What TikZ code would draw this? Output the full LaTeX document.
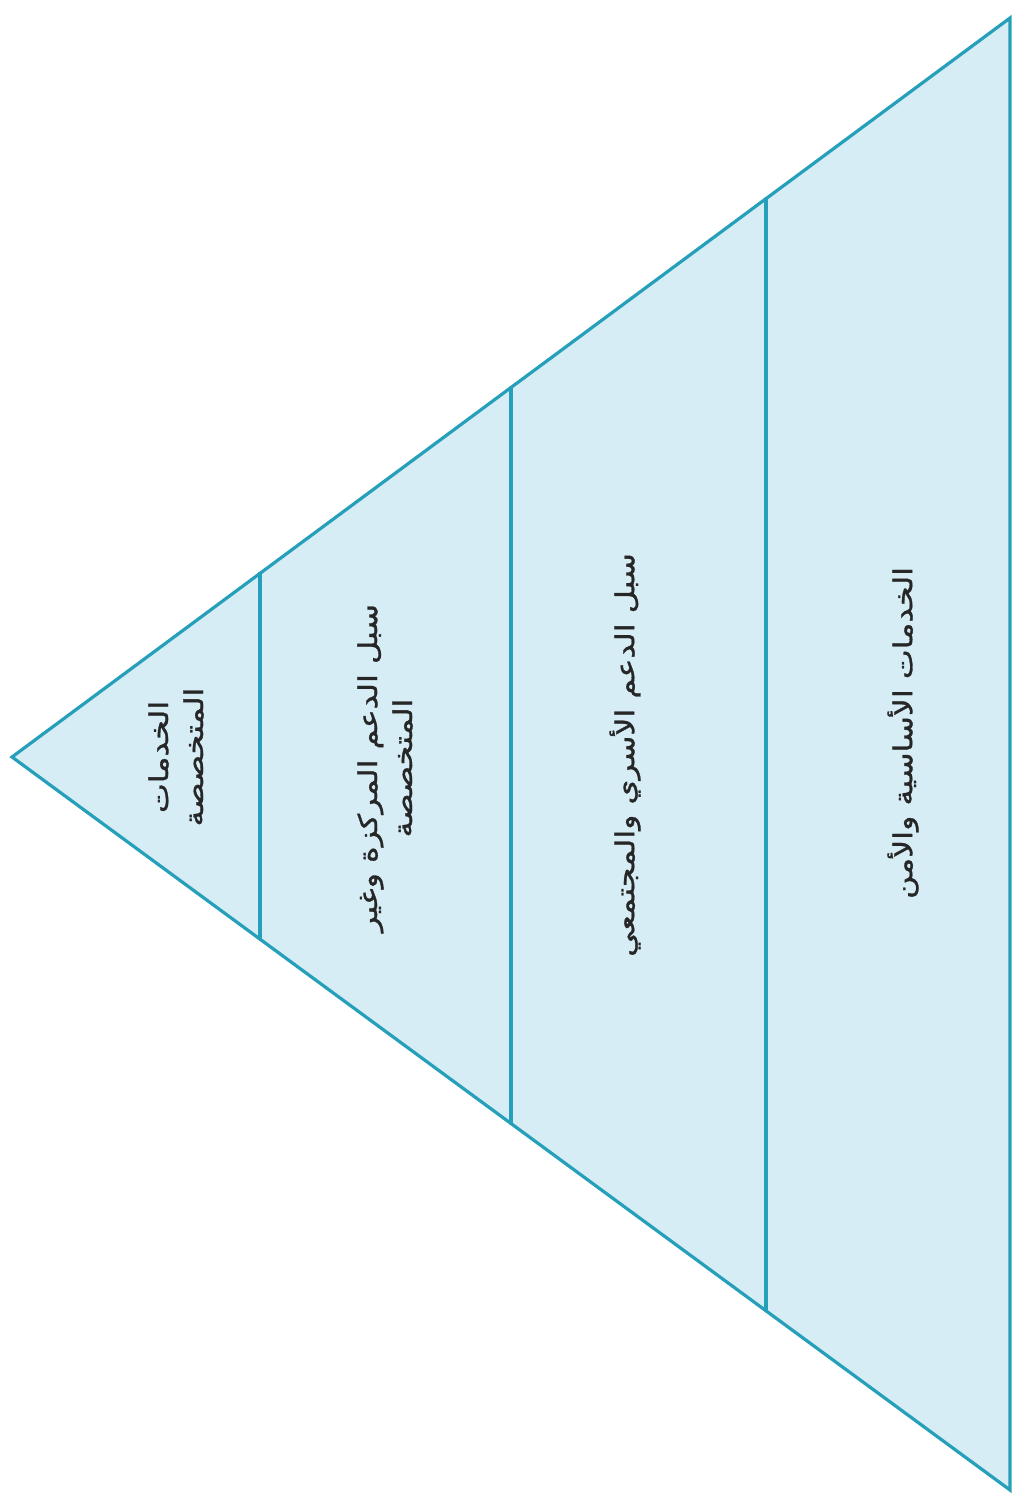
\documentclass[tikz,border=0pt]{standalone}
\usepackage{fontspec}
\usetikzlibrary{calc}
\newfontfamily\arabicfont[Script=Arabic, FakeStretch=1.22, FakeBold=1.2]{DejaVu Sans}
\TeXXeTstate=1
\definecolor{pfill}{RGB}{214,237,246}
\definecolor{pline}{RGB}{38,160,186}
\tikzset{
  edge/.style={draw=pline, line width=3.2pt, line cap=round, line join=miter},
  lab/.style={font=\arabicfont\fontsize{26}{35}\selectfont, rotate=90, align=center, text=black!85, inner sep=0pt}
}
\begin{document}
\begin{tikzpicture}[x=1pt,y=-1pt]
\useasboundingbox (0,0) rectangle (1017,1499);
\coordinate (apex) at (12,757);
\coordinate (tr) at (1010,18);
\coordinate (br) at (1010,1490);
\fill[pfill] (apex) -- (tr) -- (br) -- cycle;
\coordinate (u1) at ($(apex)!0.2485!(tr)$);
\coordinate (l1) at ($(apex)!0.2485!(br)$);
\coordinate (u2) at ($(apex)!0.5!(tr)$);
\coordinate (l2) at ($(apex)!0.5!(br)$);
\coordinate (u3) at ($(apex)!0.7555!(tr)$);
\coordinate (l3) at ($(apex)!0.7555!(br)$);
\draw[edge] (u1) -- (l1);
\draw[edge] (u2) -- (l2);
\draw[edge] (u3) -- (l3);
\draw[edge] (apex) -- (tr) -- (br) -- cycle;
\node[lab] (t1) at (176,757) {\beginR الخدمات\endR\\\beginR المتخصصة\endR};
\node[lab] (t2) at (385,768) {\beginR سبل الدعم المركزة وغير\endR\\\beginR المتخصصة\endR};
\node[lab] (t3) at (625,755) {\beginR سبل الدعم الأسري والمجتمعي\endR};
\node[lab] (t4) at (903,733) {\beginR الخدمات الأساسية والأمن\endR};
\end{tikzpicture}
\end{document}
